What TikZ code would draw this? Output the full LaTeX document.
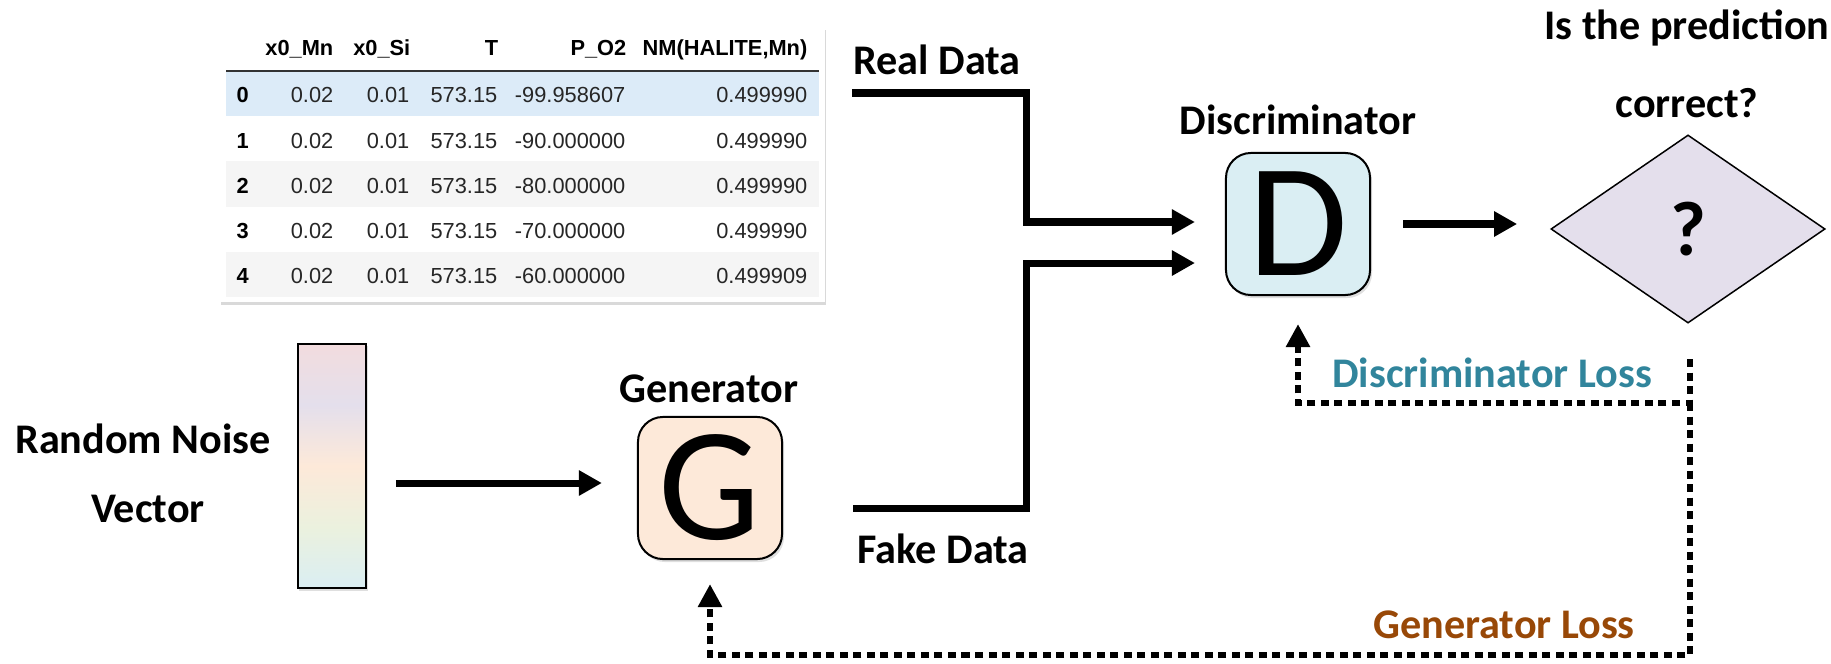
\documentclass[tikz,border=0pt]{standalone}
\usepackage{fontspec}
\setmainfont{Carlito}
\newfontfamily\tabfont{Liberation Sans}
\usetikzlibrary{arrows.meta,shapes.geometric,shadows}
\definecolor{dblue}{HTML}{DAEEF3}
\definecolor{gpeach}{HTML}{FDE9D9}
\definecolor{qlav}{HTML}{E4DFEC}
\definecolor{dloss}{HTML}{31859C}
\definecolor{gloss}{HTML}{984807}
\definecolor{rowsel}{HTML}{DCEBF8}
\definecolor{rowodd}{HTML}{F5F5F5}
\definecolor{npink}{HTML}{F2DCDE}
\definecolor{ngreen}{HTML}{EBF1DE}
\pgfdeclareverticalshading{noiseshade}{100bp}{color(0bp)=(dblue); color(25bp)=(dblue); color(37.5bp)=(ngreen);
    color(50bp)=(gpeach); color(62.5bp)=(qlav); color(75bp)=(npink); color(100bp)=(npink)}

\begin{document}
\begin{tikzpicture}[x=0.01cm,y=-0.01cm,
    txt/.style={font=\fontsize{12}{14}\selectfont\bfseries, anchor=base},
    flow/.style={line width=0.07cm, -{Triangle[length=0.23cm,width=0.24cm]}},
    feed/.style={line width=0.065cm, dash pattern=on 0.08cm off 0.055cm, -{Triangle[length=0.23cm,width=0.23cm]}},
    netbox/.style={draw, line width=0.02cm, rounded corners=0.25cm, minimum width=1.44cm, minimum height=1.42cm,
        font=\fontsize{46}{46}\selectfont, drop shadow={opacity=0.25, shadow xshift=0.02cm, shadow yshift=-0.03cm}},
    cell/.style={font=\tabfont\fontsize{6.2}{7}\selectfont, text=black!85, anchor=base east},
    head/.style={font=\tabfont\fontsize{6.2}{7}\selectfont\bfseries, anchor=base east}]
    \tikzstyle{every node}+=[inner sep=0pt]
    \useasboundingbox (0,0) rectangle (1831,664);

    % data table
    \node[fill=white, minimum width=6.05cm, minimum height=2.74cm,
        drop shadow={opacity=0.3, shadow xshift=0.01cm, shadow yshift=-0.025cm}] (table) at (522.5,165) {};
    \fill[rowsel] (226,71) rectangle (819,116);
    \fill[rowodd] (226,161) rectangle (819,207);
    \fill[rowodd] (226,252) rectangle (819,297);
    \draw[line width=0.015cm, black!80] (226,71) -- (819,71);
    \foreach \h/\x [count=\k] in {x0\_Mn/334, x0\_Si/411, T/499, P\_O2/627, {NM(HALITE,Mn)}/808}
        \node[head] (h\k) at (\x,56) {\h};
    \foreach \p/\v [count=\i from 0] in {-99.958607/0.499990, -90.000000/0.499990, -80.000000/0.499990,
            -70.000000/0.499990, -60.000000/0.499909} {
        \pgfmathsetmacro\yy{103+45.2*\i}
        \node[head, anchor=base west] (i\i) at (236,\yy) {\i};
        \node[cell] (a\i) at (334,\yy) {0.02};
        \node[cell] (b\i) at (410,\yy) {0.01};
        \node[cell] (t\i) at (498,\yy) {573.15};
        \node[cell] (p\i) at (626,\yy) {\p};
        \node[cell] (n\i) at (808,\yy) {\v};
    }

    % noise vector
    \node[draw, line width=0.015cm, shade, shading=noiseshade, minimum width=0.68cm, minimum height=2.44cm,
        drop shadow={opacity=0.25, shadow xshift=0.015cm, shadow yshift=-0.025cm}] (noise) at (332,466) {};
    \node[txt] (rn) at (143,453) {Random Noise};
    \node[txt] (vec) at (148,522) {Vector};

    % networks
    \node[netbox, fill=gpeach] (G) at (710,488) {G};
    \node[txt] (gtxt) at (709,402) {Generator};
    \node[netbox, fill=dblue] (D) at (1298,224) {D};
    \node[txt] (dtxt) at (1298,135) {Discriminator};
    \node[diamond, draw, line width=0.015cm, fill=qlav, minimum width=2.74cm, minimum height=1.88cm,
        font=\fontsize{22}{22}\selectfont\bfseries] (judge) at (1688,229) {?};
    \node[txt] (q1) at (1687,40) {Is the prediction};
    \node[txt] (q2) at (1687,117) {correct?};

    % data flow
    \node[txt] (real) at (937,75) {Real Data};
    \node[txt] (fake) at (943,563) {Fake Data};
    \coordinate (realstart) at (852,93);
    \coordinate (fakestart) at (853,508);
    \coordinate (realin) at ([xshift=-0.3cm,yshift=0.02cm]D.west);
    \coordinate (fakein) at ([xshift=-0.3cm,yshift=-0.39cm]D.west);
    \draw[flow] (realstart) -- (1026,93) |- (realin);
    \draw[flow] (fakestart) -- (1026,508) |- (fakein);
    \draw[flow] ([xshift=0.29cm,yshift=-0.17cm]noise.east) -- +(2.06cm,0);
    \draw[flow] ([xshift=0.32cm]D.east) -- +(1.14cm,0);

    % losses
    \node[txt, text=dloss] (dl) at (1492,387) {Discriminator Loss};
    \node[txt, text=gloss] (gl) at (1504,638) {Generator Loss};
    \coordinate (losstop) at (1690,359);
    \coordinate (lossbend) at (1690,403);
    \coordinate (lossfoot) at (1690,655);
    \draw[feed] (losstop) -- (lossbend) -| ([yshift=-0.28cm]D.south);
    \draw[feed] (lossbend) -- (lossfoot) -| ([yshift=-0.24cm]G.south);
\end{tikzpicture}
\end{document}
